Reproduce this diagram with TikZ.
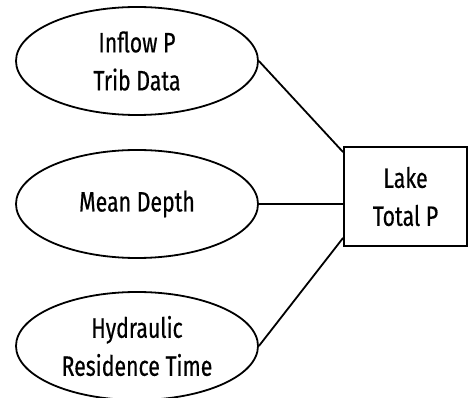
\documentclass[tikz,border=0pt]{standalone}
\usepackage{fontspec}
\setmainfont{Fira Sans}[FakeStretch=0.76, FakeBold=0.5]
\usetikzlibrary{shapes.geometric}

\tikzset{
  source/.style={ellipse, draw, inner sep=0pt, minimum width=242pt, minimum height=108pt},
  target/.style={rectangle, draw, align=center, inner sep=0pt, minimum width=123pt, minimum height=99pt}
}

\begin{document}
\begin{tikzpicture}[x=1pt, y=-1pt, line width=1.8pt, font=\fontsize{28}{38}\selectfont]
      \useasboundingbox (0,0) rectangle (469,398);
      \draw
        (137,61) node[source, label={[align=center]center:Inflow P\\Trib Data}] (inflow){}
        (137,204) node[source, label={[align=center]center:Mean Depth}] (depth){}
        (137,346) node[source, label={[align=center]center:Hydraulic\\Residence Time}] (residence){}
        (405.5,196.5) node[target] (lake){Lake\\Total P};
      \begin{scope}[-]
        \draw (inflow.east) to ([yshift=-6pt]lake.north west);
        \draw (depth.east) to (depth.east -| lake.west);
        \draw (residence.east) to ([yshift=9pt]lake.south west);
      \end{scope}
    \end{tikzpicture}
\end{document}
